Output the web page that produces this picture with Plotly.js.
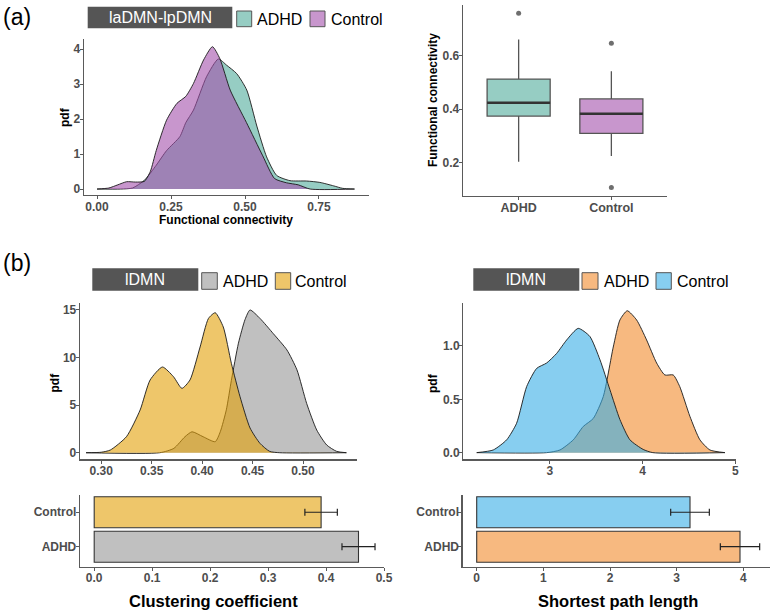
<!DOCTYPE html>
<html>
<head>
<meta charset="utf-8">
<script src="https://cdn.plot.ly/plotly-3.0.1.min.js"></script>
<style>html,body{margin:0;padding:0;background:#fff;}#chart{width:774px;height:610px;}</style>
</head>
<body>
<div id="chart"></div>
<script>
// ---------- DATA ----------
// (a) laDMN-lpDMN functional connectivity densities
const aAdhdX = [0.00, 0.08, 0.12, 0.16, 0.20, 0.235, 0.28, 0.30, 0.326, 0.37, 0.41, 0.438, 0.472, 0.506, 0.54, 0.573, 0.607, 0.652, 0.708, 0.753, 0.80, 0.83, 0.87];
const aAdhdY = [0, 0, 0.03, 0.25, 0.68, 1.1, 1.5, 1.9, 2.26, 3.21, 3.72, 3.54, 3.3, 2.83, 1.8, 0.92, 0.39, 0.24, 0.23, 0.19, 0.09, 0.02, 0];
const aCtrlX = [0.00, 0.04, 0.07, 0.10, 0.13, 0.16, 0.18, 0.20, 0.235, 0.27, 0.30, 0.326, 0.36, 0.39, 0.415, 0.45, 0.505, 0.56, 0.60, 0.64, 0.68, 0.72, 0.87];
const aCtrlY = [0, 0.03, 0.12, 0.21, 0.2, 0.22, 0.5, 1.1, 1.97, 2.45, 2.65, 3.02, 3.69, 4.07, 3.73, 2.83, 1.9, 0.95, 0.3, 0.18, 0.12, 0.0, 0];

// (a) boxplot statistics
const boxGroups = ['ADHD', 'Control'];
const boxQ1 = [0.374, 0.310];
const boxMedian = [0.4234, 0.3826];
const boxQ3 = [0.5115, 0.438];
const boxLower = [0.204, 0.226];
const boxUpper = [0.659, 0.541];
const outlierGroup = [0, 1, 1];
const outlierValue = [0.756, 0.645, 0.109];

// (b) lDMN clustering coefficient densities
const cAdhdX = [0.285, 0.358, 0.372, 0.383, 0.390, 0.401, 0.413, 0.418, 0.424, 0.429, 0.436, 0.4426, 0.4475, 0.4574, 0.4706, 0.484, 0.494, 0.5036, 0.5136, 0.5235, 0.5334, 0.543];
const cAdhdY = [0, 0, 0.46, 1.68, 2.2, 1.68, 1.16, 2.2, 4.5, 7.6, 11.5, 14.0, 14.99, 14.1, 12.5, 10.8, 8.7, 5.18, 2.38, 0.81, 0.14, 0];
const cCtrlX = [0.285, 0.30, 0.309, 0.325, 0.3386, 0.3485, 0.3607, 0.3716, 0.380, 0.388, 0.398, 0.4063, 0.413, 0.421, 0.429, 0.4376, 0.4475, 0.4574, 0.467, 0.477, 0.543];
const cCtrlY = [0, 0.05, 0.28, 1.68, 4.49, 7.64, 9.0, 7.99, 6.76, 7.64, 11.1, 14.1, 14.7, 13.2, 9.39, 5.88, 2.6, 0.98, 0.14, 0, 0];

// (b) lDMN shortest path length densities
const sAdhdX = [2.21, 2.964, 3.108, 3.252, 3.36, 3.467, 3.575, 3.683, 3.755, 3.834, 3.935, 4.043, 4.151, 4.24, 4.33, 4.40, 4.51, 4.618, 4.726, 4.888];
const sAdhdY = [0, 0, 0.025, 0.12, 0.246, 0.32, 0.525, 0.99, 1.244, 1.33, 1.244, 1.056, 0.84, 0.728, 0.728, 0.62, 0.34, 0.12, 0.025, 0];
const sCtrlX = [2.21, 2.388, 2.533, 2.64, 2.749, 2.857, 2.964, 3.072, 3.18, 3.305, 3.43, 3.54, 3.647, 3.755, 3.863, 4.006, 4.11, 4.888];
const sCtrlY = [0, 0.025, 0.12, 0.275, 0.62, 0.79, 0.84, 0.93, 1.056, 1.165, 1.09, 0.87, 0.59, 0.31, 0.12, 0.03, 0, 0];

// (b) bar charts (mean +/- error)
const barGroups = ['ADHD', 'Control'];
const clustMean = [0.456, 0.3915];
const clustErr = [0.0285, 0.028];
const pathMean = [3.95, 3.20];
const pathErr = [0.295, 0.29];

// ---------- STYLE ----------
const FONT = 'Liberation Sans, Arial, Helvetica, sans-serif';
const W = 774, H = 610;
const px = x => x / W;
const py = y => 1 - y / H;

const col = {
  teal: 'rgba(80,172,155,0.6)',
  purple: 'rgba(163,80,172,0.6)',
  gray: 'rgba(150,150,150,0.6)',
  yellow: 'rgba(227,160,7,0.6)',
  orange: 'rgba(242,138,43,0.6)',
  blue: 'rgba(55,173,230,0.6)'
};

function axis(d0, d1, range, anchor, extra) {
  return Object.assign({
    domain: [d0, d1], range: range, anchor: anchor,
    showline: true, linecolor: '#5a5a5a', linewidth: 1.3,
    ticks: 'outside', ticklen: 3, tickwidth: 1, tickcolor: '#5a5a5a',
    ticklabelstandoff: -3,
    showgrid: false, zeroline: false, fixedrange: true,
    tickfont: {family: FONT, size: 12, color: '#4d4d4d', weight: 'bold'}
  }, extra || {});
}

function dens(x, y, fill, xa, ya) {
  return {type: 'scatter', mode: 'lines', x: x, y: y, xaxis: xa, yaxis: ya,
    fill: 'tozeroy', fillcolor: fill,
    line: {color: '#1a1a1a', width: 0.9, shape: 'spline', smoothing: 0.6},
    hoverinfo: 'skip'};
}

const traces = [];
// (a) density
traces.push(dens(aAdhdX, aAdhdY, col.teal, 'x', 'y'));
traces.push(dens(aCtrlX, aCtrlY, col.purple, 'x', 'y'));
// (a) boxes
const boxFills = [col.teal, col.purple];
boxGroups.forEach((g, i) => {
  traces.push({type: 'box', x: [i], q1: [boxQ1[i]], median: [boxMedian[i]], q3: [boxQ3[i]],
    lowerfence: [boxLower[i]], upperfence: [boxUpper[i]], width: 0.68, whiskerwidth: 0,
    boxpoints: false, fillcolor: boxFills[i], line: {color: '#555555', width: 1.3},
    xaxis: 'x2', yaxis: 'y2', hoverinfo: 'skip'});
  traces.push({type: 'scatter', mode: 'lines', x: [i - 0.34, i + 0.34], y: [boxMedian[i], boxMedian[i]],
    line: {color: '#333333', width: 2.4}, xaxis: 'x2', yaxis: 'y2', hoverinfo: 'skip'});
});
traces.push({type: 'scatter', mode: 'markers', x: outlierGroup, y: outlierValue,
  marker: {color: '#6e6e6e', size: 5}, xaxis: 'x2', yaxis: 'y2', hoverinfo: 'skip'});
// (b) densities
traces.push(dens(cAdhdX, cAdhdY, col.gray, 'x3', 'y3'));
traces.push(dens(cCtrlX, cCtrlY, col.yellow, 'x3', 'y3'));
traces.push(dens(sAdhdX, sAdhdY, col.orange, 'x4', 'y4'));
traces.push(dens(sCtrlX, sCtrlY, col.blue, 'x4', 'y4'));
// (b) bars
traces.push({type: 'bar', orientation: 'h', y: barGroups, x: clustMean, width: 0.9,
  marker: {color: [col.gray, col.yellow], line: {color: '#333333', width: 1.1}},
  error_x: {type: 'data', array: clustErr, visible: true, color: '#222222', thickness: 1.2, width: 3.5},
  xaxis: 'x5', yaxis: 'y5', hoverinfo: 'skip'});
traces.push({type: 'bar', orientation: 'h', y: barGroups, x: pathMean, width: 0.9,
  marker: {color: [col.orange, col.blue], line: {color: '#333333', width: 1.1}},
  error_x: {type: 'data', array: pathErr, visible: true, color: '#222222', thickness: 1.2, width: 3.5},
  xaxis: 'x6', yaxis: 'y6', hoverinfo: 'skip'});

const layout = {
  width: W, height: H, margin: {l: 0, r: 0, t: 0, b: 0},
  paper_bgcolor: '#ffffff', plot_bgcolor: 'rgba(0,0,0,0)', showlegend: false,
  font: {family: FONT},
  // (a) density
  xaxis: axis(px(84), px(369), [-0.044, 0.919], 'y', {tickvals: [0, 0.25, 0.5, 0.75], tickformat: '.2f'}),
  yaxis: axis(py(195), py(39), [-0.17, 4.29], 'x', {tickvals: [0, 1, 2, 3, 4]}),
  // (a) box
  xaxis2: axis(px(463), px(667), [-0.6, 1.6], 'y2', {tickvals: [0, 1], ticktext: boxGroups, tickfont: {family: FONT, size: 12.5, color: '#4d4d4d', weight: 'bold'}}),
  yaxis2: axis(py(196), py(5), [0.077, 0.787], 'x2', {tickvals: [0.2, 0.4, 0.6], tickformat: '.1f'}),
  // (b) clustering density
  xaxis3: axis(px(80), px(357), [0.279, 0.5535], 'y3', {tickvals: [0.30, 0.35, 0.40, 0.45, 0.50], tickformat: '.2f'}),
  yaxis3: axis(py(459.3), py(303.3), [-0.69, 15.69], 'x3', {tickvals: [0, 5, 10, 15]}),
  // (b) path density
  xaxis4: axis(px(463.3), px(735.5), [2.065, 5.002], 'y4', {tickvals: [3, 4, 5]}),
  yaxis4: axis(py(459.3), py(303.3), [-0.0625, 1.40], 'x4', {tickvals: [0, 0.5, 1.0], tickformat: '.1f'}),
  // (b) bars
  xaxis5: axis(px(80), px(384), [-0.0245, 0.5], 'y5', {tickvals: [0, 0.1, 0.2, 0.3, 0.4, 0.5], tickformat: '.1f'}),
  yaxis5: axis(py(566.7), py(495), [-0.58, 1.5], 'x5', {type: 'category', categoryorder: 'array', categoryarray: barGroups}),
  xaxis6: axis(px(462.7), px(770), [-0.21, 4.4], 'y6', {tickvals: [0, 1, 2, 3, 4]}),
  yaxis6: axis(py(566.7), py(495), [-0.58, 1.5], 'x6', {type: 'category', categoryorder: 'array', categoryarray: barGroups}),
  shapes: [],
  annotations: []
};

function txt(t, x, y, opts) {
  layout.annotations.push(Object.assign({text: t, x: px(x), y: py(y), xref: 'paper', yref: 'paper',
    showarrow: false, xanchor: 'center', yanchor: 'middle',
    font: {family: FONT, size: 12, color: '#000000', weight: 'bold'}}, opts || {}));
}
function rect(x0, y0, x1, y1, fill, line) {
  layout.shapes.push({type: 'rect', xref: 'paper', yref: 'paper', x0: px(x0), x1: px(x1), y0: py(y1), y1: py(y0),
    fillcolor: fill, line: {color: line || 'rgba(0,0,0,0)', width: line ? 1 : 0}, layer: 'above'});
}

// panel labels
txt('(a)', 1, 17, {xanchor: 'left', font: {family: FONT, size: 23, color: '#000'}});
txt('(b)', 1, 263, {xanchor: 'left', font: {family: FONT, size: 23, color: '#000'}});

// legend strips
const legFont = {family: FONT, size: 16, color: '#000'};
rect(87.7, 6.7, 232.3, 28.3, '#555555');
txt('laDMN-lpDMN', 160, 17.8, {font: {family: FONT, size: 16, color: '#ffffff'}});
rect(236.7, 11, 251.7, 26.7, col.teal, '#555555');
txt('ADHD', 255.3, 19, {xanchor: 'left', font: legFont});
rect(310, 11, 325, 26.7, col.purple, '#555555');
txt('Control', 328.5, 19, {xanchor: 'left', font: legFont});

rect(92.3, 268.3, 198.3, 290.7, '#555555');
txt('lDMN', 145.3, 279.5, {font: {family: FONT, size: 16, color: '#ffffff'}});
rect(201.7, 272.7, 217.3, 289.3, col.gray, '#555555');
txt('ADHD', 221.3, 281, {xanchor: 'left', font: legFont});
rect(275.3, 272.7, 290.7, 289.3, col.yellow, '#555555');
txt('Control', 293, 281, {xanchor: 'left', font: legFont});

rect(473.3, 268.3, 579.3, 290.7, '#555555');
txt('lDMN', 526.3, 279.5, {font: {family: FONT, size: 16, color: '#ffffff'}});
rect(582, 272.7, 598, 289.3, col.orange, '#555555');
txt('ADHD', 601.5, 281, {xanchor: 'left', font: legFont});
rect(656, 272.7, 671.3, 289.3, col.blue, '#555555');
txt('Control', 674.5, 281, {xanchor: 'left', font: legFont});

// axis titles
txt('pdf', 65, 117, {textangle: -90});
txt('Functional connectivity', 226, 220);
txt('Functional connectivity', 433, 100, {textangle: -90});
txt('pdf', 54.5, 383, {textangle: -90});
txt('pdf', 433, 383, {textangle: -90});
txt('Clustering coefficient', 213, 601, {font: {family: FONT, size: 16.5, color: '#000', weight: 'bold'}});
txt('Shortest path length', 617.5, 601, {font: {family: FONT, size: 16.5, color: '#000', weight: 'bold'}});

Plotly.newPlot('chart', traces, layout, {staticPlot: true, displayModeBar: false});
</script>
</body>
</html>
